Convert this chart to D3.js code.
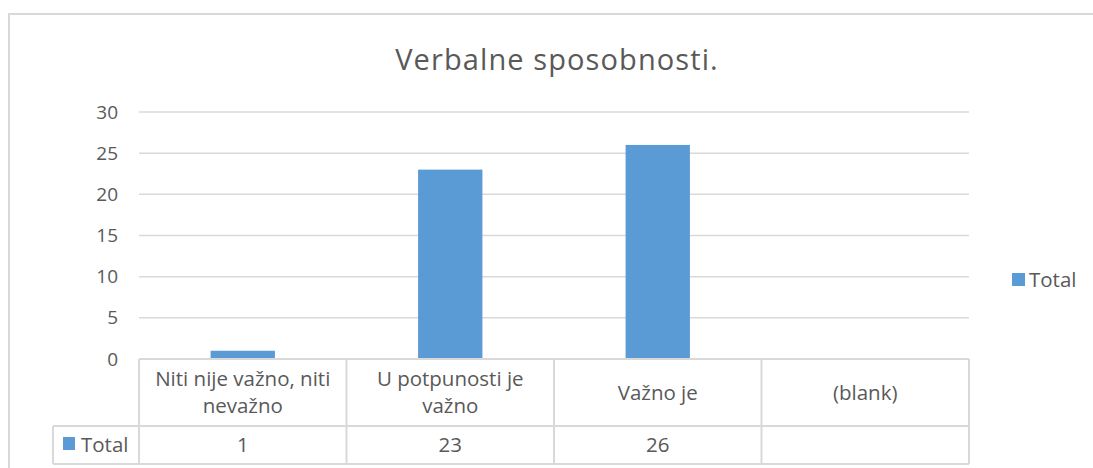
<!DOCTYPE html>
<html>
<head>
<meta charset="utf-8">
<script src="https://cdn.jsdelivr.net/npm/d3@7"></script>
<style>
  body { margin: 0; background: #fff; }
  text { font-family: "Open Sans", "Noto Sans", sans-serif; fill: #595959; }
</style>
</head>
<body>
<div class="chart"></div>
<script>
const title = "Verbalne sposobnosti.";
const categories = [["Niti nije važno, niti", "nevažno"], ["U potpunosti je", "važno"], ["Važno je"], ["(blank)"]];
const values = [1, 23, 26, null];
const seriesName = "Total";
const yTicks = [0, 5, 10, 15, 20, 25, 30];

const width = 1093, height = 468;
const barColor = "#5b9bd5";
const lineColor = "#d9d9d9";
const plot = { left: 139, right: 969, top: 112, bottom: 359 };
const tableRow1 = 426, tableBottom = 464, tableLeft = 53;
const labelSize = "20.5px";

const svg = d3.select("div.chart").append("svg")
	.attr("width", width)
	.attr("height", height);

// outer chart frame (continues past the right/bottom edge)
svg.append("path")
	.attr("d", "M9," + (height + 5) + " L9,14 L" + (width + 5) + ",14")
	.attr("fill", "none")
	.attr("stroke", lineColor)
	.attr("stroke-width", 2);

svg.append("text")
	.attr("x", 557)
	.attr("y", 70)
	.attr("text-anchor", "middle")
	.style("font-size", "29px")
	.style("letter-spacing", "1.1px")
	.text(title);

const x = d3.scaleBand()
	.domain(d3.range(categories.length))
	.range([plot.left, plot.right])
	.paddingInner(0)
	.paddingOuter(0);

const y = d3.scaleLinear()
	.domain([0, 30])
	.range([plot.bottom, plot.top]);

// gridlines
svg.append("g")
	.selectAll("line")
	.data(yTicks.filter(d => d > 0))
	.join("line")
	.attr("x1", plot.left)
	.attr("x2", plot.right)
	.attr("y1", d => y(d))
	.attr("y2", d => y(d))
	.attr("stroke", lineColor)
	.attr("stroke-width", 1.5);

// y axis labels
const yAxis = d3.axisLeft(y).tickValues(yTicks).tickSize(0).tickPadding(0);
svg.append("g")
	.attr("transform", "translate(118,0)")
	.call(yAxis)
	.call(g => g.select(".domain").remove())
	.call(g => g.selectAll("text")
		.style("font-size", "19px")
		.style("font-family", "'Open Sans', sans-serif")
		.attr("fill", "#595959"));

// bars
const barWidth = x.bandwidth() * 0.31;
svg.append("g")
	.selectAll("rect")
	.data(values.map((v, i) => ({ v, i })).filter(d => d.v != null))
	.join("rect")
	.attr("x", d => x(d.i) + (x.bandwidth() - barWidth) / 2)
	.attr("y", d => y(d.v))
	.attr("width", barWidth)
	.attr("height", d => y(0) - y(d.v))
	.attr("fill", barColor);

// data table
const tbl = svg.append("g")
	.attr("fill", "none")
	.attr("stroke", lineColor)
	.attr("stroke-width", 2);

tbl.append("line")
	.attr("x1", plot.left).attr("x2", plot.right)
	.attr("y1", plot.bottom).attr("y2", plot.bottom);
tbl.append("line")
	.attr("x1", tableLeft).attr("x2", plot.right)
	.attr("y1", tableRow1).attr("y2", tableRow1);
tbl.append("line")
	.attr("x1", tableLeft).attr("x2", plot.right)
	.attr("y1", tableBottom).attr("y2", tableBottom);
tbl.append("line")
	.attr("x1", tableLeft).attr("x2", tableLeft)
	.attr("y1", tableRow1).attr("y2", tableBottom);
tbl.selectAll("line.sep")
	.data(d3.range(categories.length + 1))
	.join("line")
	.attr("class", "sep")
	.attr("x1", d => plot.left + d * x.bandwidth())
	.attr("x2", d => plot.left + d * x.bandwidth())
	.attr("y1", plot.bottom)
	.attr("y2", tableBottom);

// category labels
const lineH = 27;
const mid1 = (plot.bottom + tableRow1) / 2;
svg.append("g")
	.selectAll("text")
	.data(categories)
	.join("text")
	.attr("text-anchor", "middle")
	.style("font-size", labelSize)
	.each(function(d, i) {
		const t = d3.select(this);
		const y0 = mid1 - (d.length - 1) * lineH / 2 + 7;
		d.forEach((s, k) => {
			t.append("tspan")
				.attr("x", x(i) + x.bandwidth() / 2)
				.attr("y", y0 + k * lineH)
				.text(s);
		});
	});

// value row
const mid2 = (tableRow1 + tableBottom) / 2 + 7;
svg.append("g")
	.selectAll("text")
	.data(values)
	.join("text")
	.attr("x", (d, i) => x(i) + x.bandwidth() / 2)
	.attr("y", mid2)
	.attr("text-anchor", "middle")
	.style("font-size", labelSize)
	.text(d => d == null ? "" : d);

svg.append("rect")
	.attr("x", 63).attr("y", 437)
	.attr("width", 12).attr("height", 13)
	.attr("fill", barColor);
svg.append("text")
	.attr("x", 81).attr("y", mid2)
	.style("font-size", labelSize)
	.text(seriesName);

// legend
svg.append("rect")
	.attr("x", 1012).attr("y", 273)
	.attr("width", 13).attr("height", 13)
	.attr("fill", barColor);
svg.append("text")
	.attr("x", 1029).attr("y", 287)
	.style("font-size", labelSize)
	.text(seriesName);
</script>
</body>
</html>
